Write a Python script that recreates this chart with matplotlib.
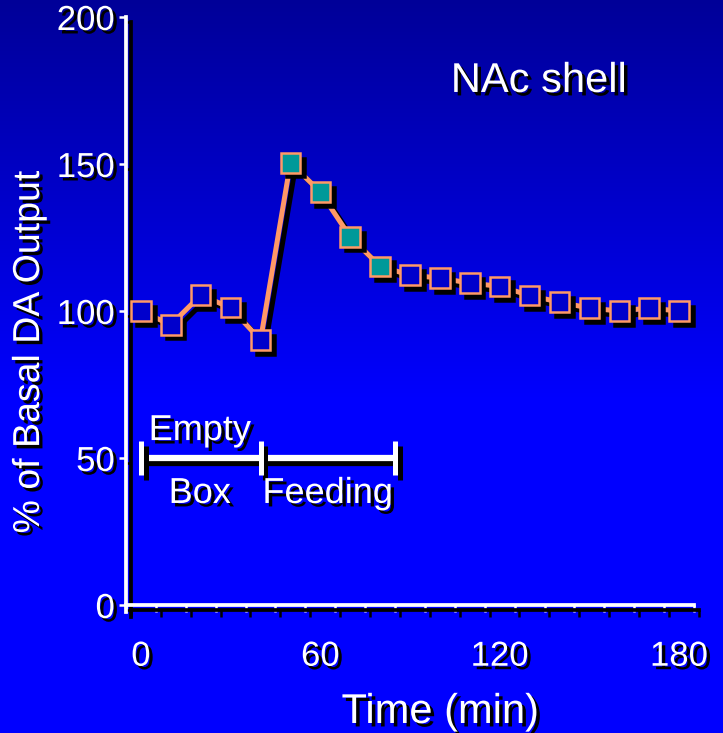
import numpy as np
import matplotlib
matplotlib.use("Agg")
import matplotlib.pyplot as plt
import matplotlib.patheffects as pe

# data
time_min = [0, 10, 20, 30, 40, 50, 60, 70, 80, 90, 100, 110, 120, 130, 140, 150, 160, 170, 180]
da_output = [100, 95.3, 105.4, 101.1, 90.1, 150.4, 140.5, 125.2, 115.2, 112.2,
             111.2, 109.5, 108.4, 105.3, 103, 101, 100, 101, 100]
feeding_idx = [5, 6, 7, 8]  # points drawn in teal
periods = [(0, 40), (40, 85)]
x_ticks = [0, 60, 120, 180]
y_ticks = [0, 50, 100, 150, 200]

plt.rcParams['font.family'] = ['Liberation Sans', 'DejaVu Sans']

ORANGE = '#FF9966'
FILL = '#0000CC'
TEAL = '#009999'

line_shadow = [pe.SimpleLineShadow(offset=(3.5, -3.5), shadow_color='k', alpha=1), pe.Normal()]
text_shadow = [pe.SimplePatchShadow(offset=(2.5, -2.5), shadow_rgbFace='k', alpha=1), pe.Normal()]
marker_shadow = [pe.SimplePatchShadow(offset=(3.5, -3.5), shadow_rgbFace='k', alpha=1,
                                      foreground='k', linewidth=1.8), pe.Normal()]

fig = plt.figure(figsize=(7.23, 7.33), dpi=100)

# blue gradient background
bg = fig.add_axes([0, 0, 1, 1], zorder=-10)
rows = np.arange(733)
blue = np.clip(152 + rows * 103 / 400, 0, 255) / 255
grad = np.zeros((733, 1, 3))
grad[:, 0, 2] = blue
bg.imshow(grad, aspect='auto', extent=[0, 1, 0, 1], origin='upper')
bg.axis('off')

ax = fig.add_axes([126 / 723, 1 - 605 / 733, 568 / 723, 588 / 733])
ax.set_facecolor('none')
ax.set_xlim(-5, 185)
ax.set_ylim(0, 200)

# line + markers
ax.plot(time_min, da_output, color=ORANGE, lw=3.6, path_effects=line_shadow, zorder=3, clip_on=False)
colors = [TEAL if i in feeding_idx else FILL for i in range(len(time_min))]
for x, y, c in zip(time_min, da_output, colors):
    ax.plot([x], [y], 's', ms=14, mfc=c, mec=ORANGE, mew=1.8,
            path_effects=marker_shadow, zorder=4, clip_on=False)

# period bars
cap = 5.8
for x0, x1 in periods:
    ax.plot([x0, x1], [50, 50], color='white', lw=4.5, solid_capstyle='butt',
            path_effects=line_shadow, zorder=3)
for xc in [periods[0][0], periods[0][1], periods[1][1]]:
    ax.plot([xc, xc], [50 - cap, 50 + cap], color='white', lw=3.6, solid_capstyle='butt',
            path_effects=line_shadow, zorder=3)

txt = dict(color='white', fontsize=26, path_effects=text_shadow)
ax.text(19.7, 56.1, 'Empty', ha='center', va='baseline', **txt)
ax.text(19.7, 34.7, 'Box', ha='center', va='baseline', **txt)
ax.text(62.4, 34.7, 'Feeding', ha='center', va='baseline', **txt)
ax.text(133, 174.5, 'NAc shell', ha='center', va='baseline', color='white', fontsize=30,
        path_effects=text_shadow)

# axes styling
for s in ['top', 'right']:
    ax.spines[s].set_visible(False)
for s in ['left', 'bottom']:
    ax.spines[s].set_color('white')
    ax.spines[s].set_linewidth(2.7)
    ax.spines[s].set_path_effects(line_shadow)
ax.spines['left'].set_bounds(-2.5, 200)

ax.set_xticks(x_ticks)
ax.set_xticks(np.arange(-5, 186, 10), minor=True)
ax.set_yticks(y_ticks)
ax.tick_params(axis='x', which='major', length=0, pad=25, labelsize=25, labelcolor='white')
ax.tick_params(axis='x', which='minor', length=5, width=1.8, color='white', direction='out')
ax.tick_params(axis='y', which='major', length=5, width=1.8, color='white', pad=3,
               labelsize=25, labelcolor='white')

for t in ax.xaxis.get_minor_ticks() + ax.yaxis.get_major_ticks():
    t.tick1line.set_path_effects(line_shadow)
for lab in ax.get_xticklabels() + ax.get_yticklabels():
    lab.set_path_effects(text_shadow)

ax.set_xlabel('Time (min)', color='white', fontsize=30, path_effects=text_shadow)
ax.xaxis.set_label_coords((440 - 126) / 568, (605 - 712) / 588)
ax.xaxis.label.set_va('center')
ax.set_ylabel('% of Basal DA Output', color='white', fontsize=27, path_effects=text_shadow)
ax.yaxis.set_label_coords((29 - 126) / 568, (605 - 352) / 588)
ax.yaxis.label.set_va('center')

fig.savefig('out.png', dpi=100)
